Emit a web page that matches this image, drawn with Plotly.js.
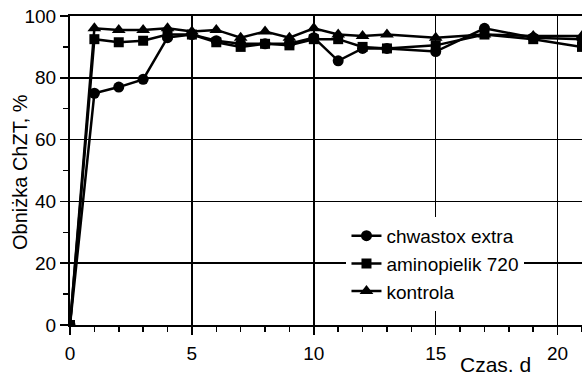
<!DOCTYPE html>
<html>
<head>
<meta charset="utf-8">
<script src="https://cdn.plot.ly/plotly-3.0.1.min.js"></script>
<style>html,body{margin:0;padding:0;background:#fff;}#chart{width:582px;height:377px;}</style>
</head>
<body>
<div id="chart"></div>
<script>
const days = [0,1,2,3,4,5,6,7,8,9,10,11,12,13,15,17,19,21];
const chwastox = [0,75,77,79.5,93,94,92,91,91,91,93,85.5,89.5,89.5,88.5,96,93,92.5];
const aminopielik = [0,92.5,91.5,92,94,94,91.5,90,91,90.5,92.5,92.5,90,89.5,90.5,94,92.5,90];
const kontrola = [0,96,95.5,95.5,96,95,95.5,93,95,93,96,94,93.5,94,93,94,93.5,93.5];
const seriesNames = ["chwastox extra","aminopielik 720","kontrola"];
const xTickVals = [0,5,10,15,20];
const yTickVals = [0,20,40,60,80,100];
const yTitle = "Obniżka ChZT, %";
const xTitle = "Czas. d";

const font = {family: "Liberation Sans, Arial, sans-serif", size: 19, color: "#000"};
const titleFont = {family: "Liberation Sans, Arial, sans-serif", size: 20, color: "#000"};
const line = {color: "#000", width: 2.5};

const traces = [
  {x: days, y: chwastox, name: seriesNames[0], mode: "lines+markers", line: line,
   marker: {symbol: "circle", size: 11, color: "#000"}},
  {x: days, y: aminopielik, name: seriesNames[1], mode: "lines+markers", line: line,
   marker: {symbol: "square", size: 10, color: "#000"}},
  {x: days, y: kontrola, name: seriesNames[2], mode: "lines+markers", line: line,
   marker: {symbol: "triangle-up", size: 12, color: "#000"}}
];

const layout = {
  width: 582, height: 377,
  margin: {l: 70, r: 0, t: 16, b: 52},
  paper_bgcolor: "#fff", plot_bgcolor: "#fff",
  font: font,
  showlegend: true,
  legend: {x: 0.54, y: 0.35, xanchor: "left", yanchor: "top", bgcolor: "#fff",
           borderwidth: 0, font: font, tracegroupgap: 0},
  xaxis: {range: [0, 21], tickvals: xTickVals, ticktext: xTickVals.map(String),
          showline: true, linecolor: "#000", linewidth: 2, mirror: true,
          ticks: "outside", ticklen: 8, tickwidth: 1.5, tickcolor: "#000",
          ticklabelstandoff: 2,
          showgrid: true, gridcolor: "#000", gridwidth: 1.5, zeroline: false,
          minor: {dtick: 1, ticks: "outside", ticklen: 5, tickwidth: 1.5, tickcolor: "#000", showgrid: false},
          tickfont: font},
  yaxis: {range: [0, 100], tickvals: yTickVals, ticktext: yTickVals.map(String),
          showline: true, linecolor: "#000", linewidth: 2,
          ticks: "outside", ticklen: 8, tickwidth: 1.5, tickcolor: "#000",
          showgrid: true, gridcolor: "#000", gridwidth: 1.5, zeroline: false,
          minor: {dtick: 10, ticks: "outside", ticklen: 5, tickwidth: 1.5, tickcolor: "#000", showgrid: false},
          tickfont: font},
  annotations: [
    {text: xTitle, xref: "paper", yref: "paper", x: 0.832, y: -0.127,
     xanchor: "center", yanchor: "middle", showarrow: false, font: {...titleFont, size: 21}},
    {text: yTitle, xref: "paper", yref: "paper", x: -0.0977, y: 0.495, textangle: -90,
     xanchor: "center", yanchor: "middle", showarrow: false, font: titleFont}
  ]
};

Plotly.newPlot("chart", traces, layout, {displayModeBar: false, staticPlot: true});
</script>
</body>
</html>
